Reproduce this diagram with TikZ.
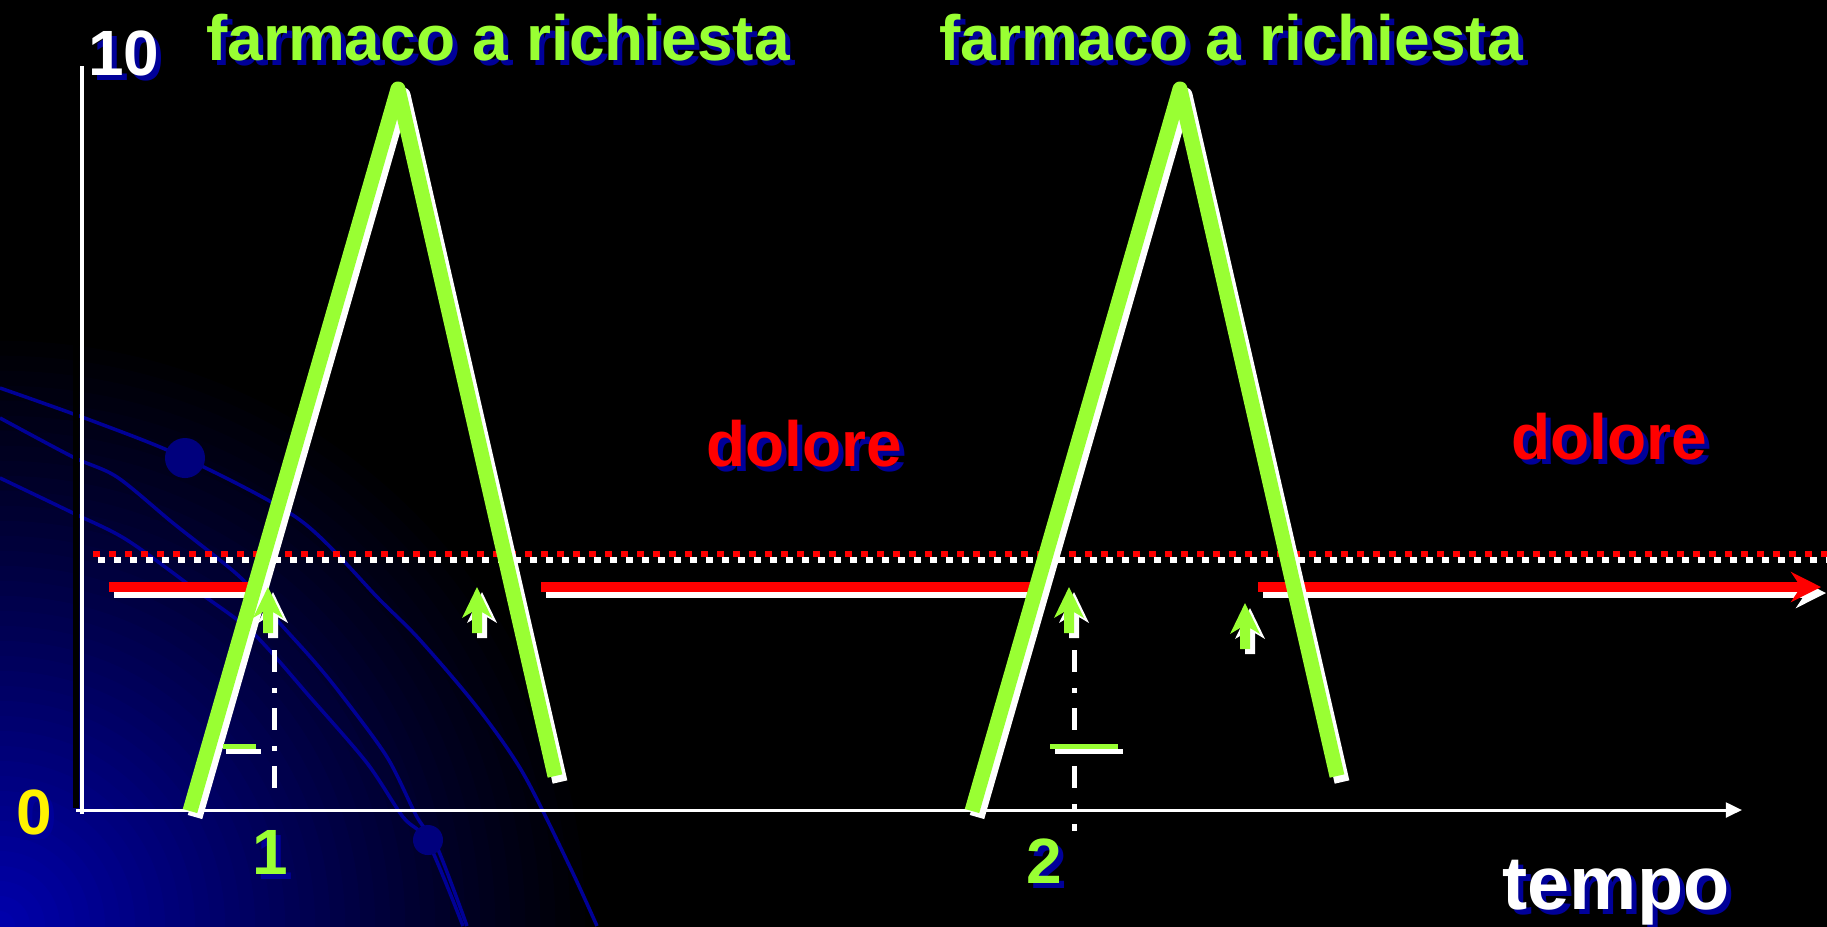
\documentclass[tikz,border=0pt]{standalone}
\usepackage{fontspec}
\setmainfont{Liberation Sans}
\usetikzlibrary{arrows.meta}

\definecolor{limegreen}{RGB}{153,255,51}
\definecolor{shadowblue}{RGB}{0,0,153}
\definecolor{arcblue}{RGB}{0,0,150}
\definecolor{ballblue}{RGB}{0,0,125}
\definecolor{cornerblue}{RGB}{0,0,175}

% label with a dark blue shadow: [extra style]{name}{x,y}{colour}{text}
\newcommand{\shlabel}[5][]{%
  \node[lbl, #1, text=shadowblue] (#2-sh) at ([shift={(5,5)}]#3) {#5};
  \node[lbl, #1, text=#4] (#2) at (#3) {#5};}

\begin{document}
\begin{tikzpicture}[x=0.01cm, y=-0.01cm, line cap=butt,
    lbl/.style={font=\fontsize{18.2}{20}\selectfont\bfseries, inner sep=0pt, anchor=base},
    peak/.style={line width=4.27pt, line join=round},
    painline/.style={line width=2.85pt},
    dotline/.style={line width=1.7pt, dash pattern=on 2pt off 2.55pt},
    dashdot/.style={line width=1.42pt, dash pattern=on 6.26pt off 4.55pt on 1.42pt off 4.27pt},
    bar/.style={line width=1.42pt}]
  % background
  \useasboundingbox (0,0) rectangle (1827,926);
  \fill[black] (-20,-20) rectangle (1847,946);
  \begin{scope}
    \clip (0,0) rectangle (1827,926);
    % glow in the lower left corner
    \foreach \i [evaluate=\i as \rad using 6-\i*0.15,
                 evaluate=\i as \pc using 100*(\i/40)^1.05] in {0,...,39}
      \fill[cornerblue!\pc!black] (0,926) circle (\rad cm);
    \draw[arcblue, line width=1pt] plot[smooth] coordinates {(0,388) (90,420) (185,458) (300,520) (380,600) (420,640) (477,707) (523,773) (570,867) (597,926)};
    \draw[arcblue, line width=1pt] plot[smooth] coordinates {(0,418) (73,457) (117,477) (173,523) (240,577) (277,620) (313,660) (340,693) (387,757) (417,817) (437,847) (467,926)};
    \draw[arcblue, line width=1pt] plot[smooth] coordinates {(0,478) (73,513) (127,540) (200,593) (253,633) (310,697) (367,763) (403,817) (428,842) (463,926)};
    \fill[ballblue] (185,458) circle (0.2cm);
    \fill[ballblue] (428,840) circle (0.15cm);
  \end{scope}

  % axes
  \draw[black, line width=1.7pt] (76,66) -- (76,808);
  \draw[white, line width=1.3pt] (82,66) -- (82,814);
  \draw[white, line width=0.85pt, -{Triangle[length=4.6pt,width=4.2pt]}] (76,810) -- (1742,810);

  % pain threshold
  \draw[white, dotline] (98,560) -- (1827,560);
  \draw[red, dotline] (93,554) -- (1827,554);
  \foreach \a/\b in {109/250, 541/1030} {
    \draw[white, painline] (\a+5,593) -- (\b+5,593);
    \draw[red, painline] (\a,587) -- (\b,587);
  }
  \draw[white, painline, -{Stealth[length=8.5pt,width=8.5pt]}] (1263,593) -- (1826,593);
  \draw[red, painline, -{Stealth[length=8.5pt,width=8.5pt]}] (1258,587) -- (1821,587);

  % drug peaks
  \foreach \dx in {0,782} {
    \draw[white, peak] (195+\dx,817) -- (403+\dx,95) -- (560+\dx,782);
    \draw[limegreen, peak] (190+\dx,811) -- (398+\dx,89) -- (555+\dx,776);
  }

  % small up arrows
  \foreach \x/\y in {268/587, 477/587, 1069/587, 1245/603} {
    \fill[white, shift={(\x+5,\y+5)}] (0,0) -- (15,31) -- (5,25) -- (5,46) -- (-5,46) -- (-5,25) -- (-15,31) -- cycle;
    \fill[limegreen, shift={(\x,\y)}] (0,0) -- (15,31) -- (5,25) -- (5,46) -- (-5,46) -- (-5,25) -- (-15,31) -- cycle;
  }

  \draw[white, dashdot] (274,650) -- (274,790);
  \draw[white, dashdot] (1074,650) -- (1074,831);
  \draw[white, bar] (226,751) -- (261,751);
  \draw[limegreen, bar] (223,746) -- (256,746);
  \draw[white, bar] (1055,751) -- (1123,751);
  \draw[limegreen, bar] (1050,746) -- (1118,746);

  % labels
  \shlabel{drug1}{498,60}{limegreen}{farmaco a richiesta}
  \shlabel{drug2}{1231,60}{limegreen}{farmaco a richiesta}
  \shlabel{ymax}{124,75}{white}{10}
  \shlabel{ymin}{34,834}{yellow}{0}
  \shlabel{dose1}{270,874}{limegreen}{1}
  \shlabel{dose2}{1044,883}{limegreen}{2}
  \shlabel{pain1}{804,466}{red}{dolore}
  \shlabel{pain2}{1609,459}{red}{dolore}
  \shlabel[font=\fontsize{21.5}{24}\selectfont\bfseries]{time}{1616,909}{white}{tempo}
\end{tikzpicture}
\end{document}
